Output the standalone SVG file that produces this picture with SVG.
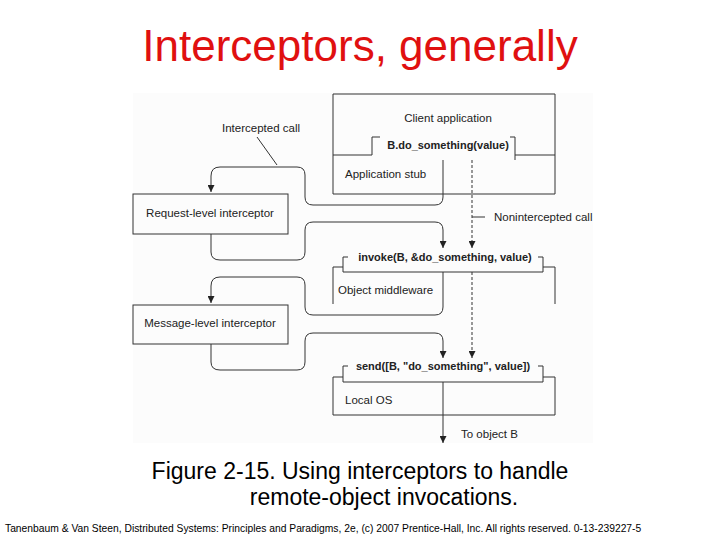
<svg xmlns="http://www.w3.org/2000/svg" width="720" height="540" viewBox="0 0 720 540">
<style>
.t{font-family:"Liberation Sans",Arial,sans-serif;font-size:11.5px;fill:#222}
.b{font-weight:bold;font-size:11px}
.l{fill:none;stroke:#333;stroke-width:1}
.d{fill:none;stroke:#333;stroke-width:1;stroke-dasharray:3,2}
</style>
<defs>
<marker id="m" viewBox="0 0 8 8" refX="8" refY="4" markerWidth="7" markerHeight="7" orient="auto" markerUnits="userSpaceOnUse"><path d="M0,0 L8,4 L0,8 Z" fill="#222"/></marker></defs>
<rect width="720" height="540" fill="#fff"/>
<rect x="133" y="93" width="460" height="350" fill="#fcfcfc"/>
<text x="360" y="61" text-anchor="middle" font-family="Liberation Sans,Arial,sans-serif" font-size="44" fill="#e01010">Interceptors, generally</text>
<g id="client">
<path class="l" d="M333,155 V94 H555 V194 H333 V155 H372 V137 H380 M510,137 H515 V160 M515,155 H555"/>
<text class="t" x="448" y="122" text-anchor="middle">Client application</text>
<text class="t b" x="448" y="149" text-anchor="middle">B.do_something(value)</text>
<text class="t" x="345" y="178">Application stub</text>
</g>
<g id="request"><rect class="l" x="133" y="194" width="155" height="40"/><text class="t" x="210" y="217" text-anchor="middle">Request-level interceptor</text></g>
<g id="middleware">
<path class="l" d="M343,272 V257 H348 M538,257 H543 V272 H343 M343,267 H333 V304 M543,267 H555 V304"/>
<text class="t b" x="445" y="261" text-anchor="middle">invoke(B, &amp;do_something, value)</text>
<text class="t" x="338" y="294">Object middleware</text>
</g>
<g id="message"><rect class="l" x="133" y="305" width="155" height="39"/><text class="t" x="210" y="327" text-anchor="middle">Message-level interceptor</text></g>
<g id="os">
<path class="l" d="M343,382 V366 H348 M538,366 H543 V382 H343 M343,377 H333 V415 H555 V377 H543"/>
<text class="t b" x="443" y="370" text-anchor="middle">send([B, "do_something", value])</text>
<text class="t" x="345" y="404">Local OS</text>
</g>
<g id="labels">
<text class="t" x="222" y="132">Intercepted call</text>
<text class="t" x="494" y="221">Nonintercepted call</text>
<text class="t" x="461" y="438">To object B</text>
</g>
<g id="connectors">
<path class="l" d="M257,137 L277,165"/>
<path class="l" marker-end="url(#m)" d="M443,160 V197 Q443,205 435,205 H313 Q305,205 305,197 V175 Q305,167 297,167 H220 Q211,167 211,176 V192"/>
<path class="l" marker-end="url(#m)" d="M211,234 V252 Q211,260 220,260 H297 Q305,260 305,252 V230 Q305,222 313,222 H435 Q443,222 443,230 V248"/>
<path class="d" marker-end="url(#m)" d="M472,160 V248"/>
<path class="l" d="M472,217 H485"/>
<path class="l" marker-end="url(#m)" d="M443,272 V307 Q443,315 435,315 H313 Q305,315 305,307 V285 Q305,277 297,277 H220 Q211,277 211,286 V303"/>
<path class="l" marker-end="url(#m)" d="M211,344 V362 Q211,370 220,370 H297 Q305,370 305,362 V341 Q305,333 313,333 H435 Q443,333 443,341 V358"/>
<path class="d" marker-end="url(#m)" d="M472,272 V358"/>
<path class="l" marker-end="url(#m)" d="M443,382 V443"/>
</g>
<text x="360" y="479" text-anchor="middle" font-family="Liberation Sans,Arial,sans-serif" font-size="23" fill="#000">Figure 2-15. Using interceptors to handle</text>
<text x="384" y="505" text-anchor="middle" font-family="Liberation Sans,Arial,sans-serif" font-size="23" fill="#000">remote-object invocations.</text>
<text x="5" y="532" font-family="Liberation Sans,Arial,sans-serif" font-size="10.3" fill="#000">Tanenbaum &amp; Van Steen, Distributed Systems: Principles and Paradigms, 2e, (c) 2007 Prentice-Hall, Inc. All rights reserved. 0-13-239227-5</text>
</svg>
